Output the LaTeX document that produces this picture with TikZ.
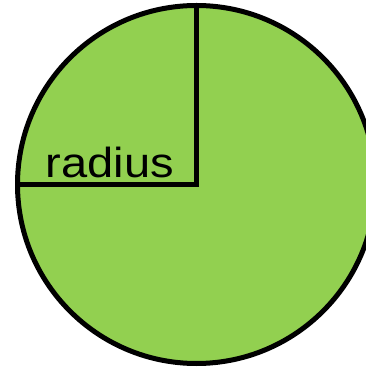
\documentclass[tikz,border=0pt]{standalone}
\usepackage{fontspec}
\setmainfont{Liberation Sans}
\definecolor{pieGreen}{HTML}{92D050}
\begin{document}
\begin{tikzpicture}[x=1pt,y=1pt,
  disk/.style={fill=pieGreen,draw=black,line width=5pt},
  radiusline/.style={draw=black,line width=5.5pt,line join=miter},
  lbl/.style={font=\fontsize{42}{42}\selectfont,inner sep=0pt,anchor=base,xscale=1.12,transform shape}]
\useasboundingbox (0,0) rectangle (365,369);
\coordinate (c) at (196.5,184.5);
\draw[disk] (c) circle[radius=179];
\coordinate (top) at (196.5,363.5);
\coordinate (left) at (17.5,184.5);
\draw[radiusline] (left) -- (c) -- (top);
\node[lbl] (r) at (110,191) {radius};
\end{tikzpicture}
\end{document}
